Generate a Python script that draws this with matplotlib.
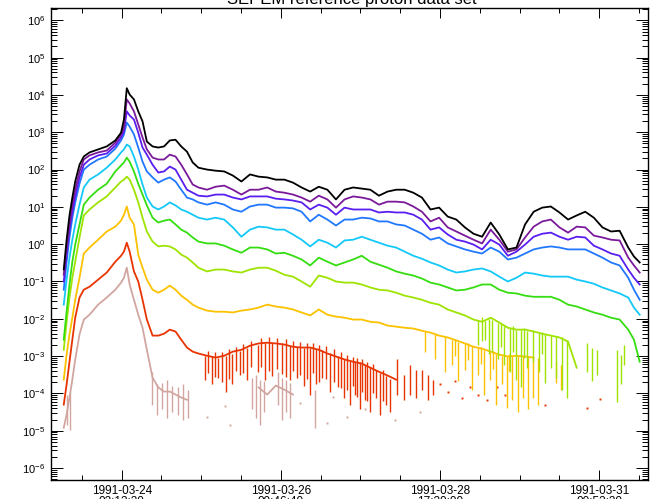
import numpy as np
import matplotlib
matplotlib.use('Agg')
import matplotlib.pyplot as plt
import matplotlib.dates as mdates
import matplotlib.ticker as mticker

plt.rcParams['font.family'] = ['Liberation Sans', 'DejaVu Sans']
plt.rcParams['mathtext.fontset'] = 'custom'
plt.rcParams['mathtext.rm'] = 'Liberation Sans'
plt.rcParams['mathtext.it'] = 'Liberation Sans:italic'
plt.rcParams['mathtext.bf'] = 'Liberation Sans:bold'

nan = np.nan
start = np.datetime64('1991-03-23T00:00:00')


def to_time(h):
    return start + np.round(np.asarray(h, dtype=float) * 3600).astype('timedelta64[s]')


# sample times, hours after 1991-03-23 00:00 UT
hours = np.r_[6, 7, 8, 9, 10, 11.5, 13, 15, 18, 21, 24, 26, 27, 28, 29, 30.5,
              32, 33.5, 35, 37, 39, 41, 43, 45, 47, 49, 51, 53,
              np.arange(56, 204, 3), 205, 207]

# log10 flux, one list per energy channel (lowest energy first)
ch1 = [-0.68, 0.12, 0.77, 1.25, 1.68, 2.13, 2.35, 2.46, 2.54, 2.62,
       2.78, 2.99, 3.34, 4.18, 4.01, 3.88, 3.56, 3.29, 2.75, 2.62,
       2.59, 2.62, 2.78, 2.80, 2.62, 2.48, 2.19, 2.05, 2.00, 1.97,
       1.95, 1.84, 1.68, 1.87, 1.81, 1.79, 1.73, 1.73, 1.65, 1.52,
       1.41, 1.54, 1.46, 1.20, 1.46, 1.52, 1.49, 1.46, 1.30, 1.41,
       1.46, 1.46, 1.38, 1.25, 0.93, 0.98, 0.74, 0.66, 0.45, 0.28,
       0.20, 0.58, 0.26, -0.14, -0.09, 0.53, 0.87, 0.98, 1.01, 0.85,
       0.66, 0.77, 0.87, 0.71, 0.45, 0.34, 0.36, -0.09, -0.33, -0.49]
ch2 = [-0.82, -0.09, 0.55, 1.06, 1.46, 1.95, 2.27, 2.38, 2.46, 2.51,
       2.72, 2.94, 3.13, 3.88, 3.77, 3.56, 3.21, 2.86, 2.54, 2.32,
       2.27, 2.27, 2.40, 2.35, 2.13, 1.87, 1.60, 1.52, 1.46, 1.54,
       1.57, 1.46, 1.33, 1.46, 1.46, 1.52, 1.41, 1.38, 1.33, 1.25,
       1.14, 1.30, 1.20, 0.98, 1.20, 1.28, 1.25, 1.20, 1.06, 1.14,
       1.14, 1.12, 1.01, 0.87, 0.61, 0.71, 0.45, 0.34, 0.23, 0.12,
       0.02, 0.39, 0.12, -0.20, -0.14, 0.18, 0.47, 0.61, 0.66, 0.45,
       0.31, 0.47, 0.45, 0.23, 0.18, 0.12, 0.10, -0.36, -0.57, -0.76]
ch3 = [-1.00, -0.28, 0.39, 0.87, 1.28, 1.79, 2.13, 2.27, 2.38, 2.43,
       2.64, 2.86, 3.02, 3.56, 3.45, 3.34, 2.99, 2.59, 2.40, 2.13,
       1.92, 1.95, 2.08, 2.00, 1.73, 1.46, 1.38, 1.30, 1.28, 1.33,
       1.33, 1.25, 1.20, 1.28, 1.28, 1.28, 1.22, 1.20, 1.17, 1.12,
       0.93, 1.06, 0.98, 0.79, 0.98, 0.93, 0.93, 0.93, 0.85, 0.87,
       0.85, 0.85, 0.79, 0.66, 0.39, 0.45, 0.26, 0.12, 0.07, -0.01,
       -0.14, 0.12, -0.01, -0.31, -0.20, -0.01, 0.20, 0.28, 0.31, 0.20,
       0.12, 0.20, 0.18, -0.04, -0.14, -0.25, -0.31, -0.68, -0.90, -1.08]
ch4 = [-1.22, -0.47, 0.18, 0.71, 1.12, 1.62, 2.00, 2.13, 2.27, 2.35,
       2.56, 2.78, 2.94, 3.26, 3.15, 2.94, 2.59, 2.21, 1.95, 1.79,
       1.65, 1.73, 1.79, 1.68, 1.46, 1.25, 1.20, 1.12, 1.06, 1.12,
       1.06, 0.93, 0.87, 1.01, 1.06, 1.06, 0.98, 0.98, 0.96, 0.87,
       0.61, 0.79, 0.66, 0.50, 0.66, 0.66, 0.71, 0.69, 0.61, 0.61,
       0.53, 0.50, 0.39, 0.28, 0.12, 0.18, 0.02, -0.06, -0.14, -0.20,
       -0.25, -0.09, -0.20, -0.41, -0.36, -0.25, -0.14, -0.09, -0.06, -0.09,
       -0.14, -0.14, -0.14, -0.25, -0.36, -0.49, -0.57, -0.90, -1.22, -1.49]
ch5 = [-1.62, -0.95, -0.36, 0.12, 0.53, 1.06, 1.52, 1.73, 1.87, 2.05,
       2.27, 2.46, 2.54, 2.67, 2.62, 2.35, 2.00, 1.60, 1.25, 1.01,
       0.93, 1.01, 1.12, 1.04, 0.93, 0.87, 0.79, 0.71, 0.66, 0.71,
       0.66, 0.45, 0.20, 0.39, 0.47, 0.45, 0.39, 0.39, 0.26, 0.12,
       -0.06, 0.12, 0.04, -0.09, 0.10, 0.12, 0.20, 0.12, 0.04, -0.04,
       -0.09, -0.20, -0.31, -0.39, -0.49, -0.57, -0.68, -0.76, -0.73, -0.68,
       -0.65, -0.73, -0.87, -1.00, -0.90, -0.76, -0.79, -0.84, -0.87, -0.87,
       -0.87, -0.95, -1.00, -1.06, -1.16, -1.24, -1.32, -1.43, -1.70, -1.89]
ch6 = [-2.56, -1.81, -1.08, -0.47, -0.01, 0.53, 1.06, 1.25, 1.46, 1.62,
       1.95, 2.11, 2.19, 2.32, 2.21, 1.95, 1.62, 1.33, 1.04, 0.71,
       0.58, 0.63, 0.66, 0.53, 0.39, 0.31, 0.18, 0.07, 0.02, 0.02,
       -0.04, -0.14, -0.23, -0.09, -0.09, -0.14, -0.25, -0.23, -0.31, -0.41,
       -0.57, -0.36, -0.47, -0.57, -0.49, -0.41, -0.31, -0.47, -0.55, -0.63,
       -0.73, -0.79, -0.84, -0.92, -1.03, -1.08, -1.16, -1.24, -1.22, -1.16,
       -1.08, -1.08, -1.22, -1.30, -1.32, -1.38, -1.41, -1.41, -1.41, -1.49,
       -1.62, -1.67, -1.75, -1.83, -1.89, -1.97, -2.02, -2.29, -2.56, -3.15]
ch7 = [-2.83, -2.08, -1.43, -0.90, -0.47, 0.18, 0.77, 0.93, 1.12, 1.28,
       1.52, 1.68, 1.73, 1.81, 1.73, 1.46, 1.12, 0.71, 0.34, 0.07,
       -0.06, -0.04, -0.06, -0.14, -0.28, -0.36, -0.49, -0.63, -0.73, -0.68,
       -0.68, -0.73, -0.76, -0.68, -0.63, -0.63, -0.71, -0.82, -0.87, -1.00,
       -1.14, -0.84, -0.90, -1.00, -1.03, -1.03, -1.08, -1.16, -1.22, -1.24,
       -1.30, -1.38, -1.43, -1.49, -1.57, -1.62, -1.75, -1.83, -1.91, -2.02,
       -2.08, -1.97, -2.10, -2.24, -2.29, -2.29, -2.34, -2.40, -2.45, -2.50,
       -2.61, -3.31, nan, nan, nan, nan, nan, nan, nan, nan]
ch8 = [-3.63, -2.96, -2.42, -1.97, -1.49, -0.90, -0.25, -0.09, 0.12, 0.34,
       0.47, 0.63, 0.79, 1.01, 0.71, 0.53, -0.28, -0.63, -0.95, -1.22,
       -1.30, -1.22, -1.11, -1.22, -1.38, -1.49, -1.62, -1.70, -1.78, -1.81,
       -1.81, -1.83, -1.78, -1.75, -1.70, -1.62, -1.67, -1.70, -1.75, -1.83,
       -1.91, -1.75, -1.89, -1.94, -1.97, -2.02, -2.02, -2.08, -2.10, -2.18,
       -2.21, -2.24, -2.26, -2.32, -2.37, -2.45, -2.50, -2.58, -2.66, -2.75,
       -2.80, -2.88, -2.96, -3.01, -2.99, -3.01, -3.04, nan, nan, nan,
       nan, nan, nan, nan, nan, nan, nan, nan, nan, nan]
ch9 = [-4.30, -3.76, -3.15, -2.56, -1.97, -1.43, -1.22, -1.14, -0.95, -0.76,
       -0.47, -0.31, -0.20, 0.04, -0.20, -0.73, -1.00, -1.49, -2.02, -2.45,
       -2.45, -2.40, -2.29, -2.34, -2.56, -2.77, -2.88, -2.93, -2.99, -3.04,
       -2.99, -2.88, -2.83, -2.72, -2.66, -2.64, -2.66, -2.69, -2.75, -2.77,
       -2.77, -2.83, -2.93, -3.01, -3.09, -3.15, -3.20, -3.31, -3.42, -3.52,
       -3.63, nan, nan, nan, nan, nan, nan, nan, nan, nan,
       nan, nan, nan, nan, nan, nan, nan, nan, nan, nan,
       nan, nan, nan, nan, nan, nan, nan, nan, nan, nan]
ch10 = [-4.92, -4.57, -4.11, -3.63, -3.09, -2.42, -2.02, -1.89, -1.62, -1.43,
        -1.22, -1.03, -0.90, -0.63, -1.08, -1.49, -1.89, -2.24, -2.83, -3.58,
        -3.84, -3.95, -3.95, -4.03, -4.11, -4.17, nan, nan, nan, nan,
        nan, nan, nan, nan, -3.84, -4.03, -3.79, -3.90, -4.03, nan,
        nan, nan, nan, nan, nan, nan, nan, nan, nan, nan,
        nan, nan, nan, nan, nan, nan, nan, nan, nan, nan,
        nan, nan, nan, nan, nan, nan, nan, nan, nan, nan,
        nan, nan, nan, nan, nan, nan, nan, nan, nan, nan]

channels = [ch1, ch2, ch3, ch4, ch5, ch6, ch7, ch8, ch9, ch10]
colors = ['#000000', '#7a1a9a', '#5a1ef0', '#2178ff', '#14c8f8',
          '#34de10', '#9ee400', '#fcc200', '#e83400', '#d2a6a0']

# noisy dropouts in the high-energy channels: time, upper and lower log10 flux
ch7_drop_h = [150.6, 152.0, 153.0, 154.3, 155.5, 157.6, 158.7, 159.6, 161.7, 162.8, 163.8,
              165.6, 166.7, 167.7, 169.8, 171.8, 173.0, 174.0, 176.1, 177.8, 179.9, 181.7,
              188.6, 190.4, 192.1, 199.1, 200.5, 201.5]
ch7_drop_hi = [-2.02, -1.95, -2.05, -2.00, -2.02, -2.10, -2.12, -2.18, -2.24, -2.20, -2.29,
               -2.29, -2.25, -2.32, -2.34, -2.37, -2.35, -2.42, -2.45, -2.48, -2.50, -2.58,
               -2.64, -2.77, -2.83, -2.83, -2.96, -2.69]
ch7_drop_lo = [-2.69, -2.60, -2.56, -2.95, -2.88, -3.09, -2.75, -3.23, -3.42, -2.90, -3.63,
               -3.84, -3.05, -3.31, -3.15, -3.42, -2.95, -3.71, -3.31, -3.58, -3.90, -4.11,
               -3.42, -3.68, -3.50, -4.22, -3.76, -3.23]

ch8_drop_h = [132.1, 135.6, 139.0, 141.5, 142.6, 143.6, 146.0, 147.2, 148.5, 150.6, 151.6,
              152.7, 154.8, 155.8, 156.9, 159.0, 160.7, 161.5, 162.4, 164.5, 166.3, 168.0,
              169.8, 171.5, 177.8, 179.5]
ch8_drop_hi = [-2.34, -2.40, -2.50, -2.56, -2.55, -2.61, -2.66, -2.65, -2.72, -2.77, -2.75,
               -2.83, -2.88, -2.85, -2.93, -2.99, -3.01, -2.95, -2.99, -2.99, -3.01, -3.01,
               -3.04, -3.04, -3.17, -3.23]
ch8_drop_lo = [-2.88, -3.09, -3.42, -3.23, -3.00, -3.68, -3.36, -3.10, -3.90, -3.50, -3.20,
               -4.03, -3.63, -3.35, -4.30, -3.76, -4.38, -3.40, -4.17, -4.49, -4.11, -4.43,
               -4.11, -4.30, -3.71, -3.90]

ch9_drop_h = [55.3, 56.5, 57.7, 58.8, 59.8, 61.2, 62.6, 63.6, 64.7, 66.0, 67.5, 68.7,
              69.9, 71.5, 73.8, 75.0, 76.2, 77.5, 78.7, 80.4, 82.2, 83.5, 84.9, 86.1,
              87.4, 88.6, 89.8, 90.8, 91.9, 93.0, 94.0, 95.0, 96.1, 97.5, 98.9, 100.3,
              101.7, 102.7, 103.8, 104.8, 105.9, 106.8, 107.6, 108.5, 109.4, 110.2, 111.1, 112.0,
              112.9, 114.0, 115.0, 116.4, 117.4, 118.5, 119.9,
              122.3, 124.7, 126.8, 129.0, 131.0, 133.1, 134.9]
ch9_drop_hi = [-2.99, -2.85, -3.01, -2.88, -3.04, -2.90, -3.01, -2.82, -2.93, -2.75, -2.85, -2.68,
               -2.77, -2.60, -2.69, -2.52, -2.66, -2.50, -2.64, -2.52, -2.66, -2.55, -2.72, -2.60,
               -2.75, -2.62, -2.77, -2.64, -2.77, -2.66, -2.80, -2.70, -2.83, -2.74, -2.91, -2.82,
               -2.99, -2.90, -3.07, -2.98, -3.12, -3.02, -3.15, -3.05, -3.17, -3.08, -3.23, -3.15,
               -3.28, -3.22, -3.36, -3.44, -3.38, -3.52, -3.60,
               -3.09, -3.50, -3.23, -3.36, -3.36, -3.50, -3.63]
ch9_drop_lo = [-3.63, -3.45, -3.76, -3.55, -3.58, -3.70, -3.95, -3.60, -3.74, -3.40, -3.50, -3.45,
               -3.63, -3.30, -3.42, -3.30, -3.63, -3.40, -3.52, -3.35, -3.47, -3.55, -3.63, -3.40,
               -3.58, -3.50, -3.79, -3.60, -4.03, -3.45, -3.74, -3.70, -3.58, -3.60, -3.95, -3.70,
               -3.84, -3.85, -4.11, -3.90, -4.30, -3.80, -4.03, -4.10, -4.43, -3.95, -4.17, -4.20,
               -4.49, -4.00, -4.11, -4.57, -4.20, -4.30, -4.49,
               -4.03, -4.17, -4.03, -4.11, -3.90, -4.17, -4.03]

ch10_drop_h = [7.1, 8.2, 36.8, 38.5, 40.3, 42.0, 43.8, 45.9, 47.6, 49.4,
               71.7, 73.1, 74.5, 75.9, 80.8, 82.2, 83.6, 85.0, 93.7]
ch10_drop_hi = [-4.03, -3.95, -3.42, -3.76, -3.71, -3.63, -3.79, -3.84, -3.74, -3.90,
                -3.58, -3.50, -3.63, -3.68, -3.42, -3.58, -3.63, -3.71, -3.90]
ch10_drop_lo = [-4.84, -4.97, -4.30, -4.57, -4.43, -4.65, -4.49, -4.57, -4.70, -4.65,
                -4.43, -4.65, -4.84, -4.49, -4.30, -4.70, -4.49, -4.65, -4.92]

# isolated single samples
ch9_pts_h = [137.3, 140.1, 142.5, 145.0, 147.8, 150.6, 153.7, 157.2, 160.0, 174.0, 188.6, 193.2]
ch9_pts = [-3.76, -3.95, -3.68, -4.11, -3.84, -4.03, -4.17, -3.82, -4.03, -4.30, -4.38, -4.14]
ch10_pts_h = [56.0, 62.3, 64.0, 88.4, 97.9, 100.0, 104.9, 111.1, 121.6, 130.3]
ch10_pts = [-4.62, -4.35, -4.84, -4.25, -4.78, -4.09, -4.62, -4.43, -4.70, -4.49]

drops = {6: (ch7_drop_h, ch7_drop_hi, ch7_drop_lo),
         7: (ch8_drop_h, ch8_drop_hi, ch8_drop_lo),
         8: (ch9_drop_h, ch9_drop_hi, ch9_drop_lo),
         9: (ch10_drop_h, ch10_drop_hi, ch10_drop_lo)}
points = {8: (ch9_pts_h, ch9_pts), 9: (ch10_pts_h, ch10_pts)}

fig = plt.figure(figsize=(6.51, 4.99), dpi=100)
ax = fig.add_axes([51 / 651, 1 - 480 / 499, 597 / 651, 472 / 499])

t = to_time(hours)
for i in range(len(channels) - 1, -1, -1):
    col = colors[i]
    z = 2 + (len(channels) - i) * 0.1
    ax.plot(t, 10 ** np.array(channels[i]), color=col, lw=1.3, zorder=z)
    if i in drops:
        h, hi, lo = drops[i]
        ax.vlines(to_time(h), 10 ** np.array(lo), 10 ** np.array(hi),
                  color=col, lw=1.0, zorder=z)
    if i in points:
        h, v = points[i]
        ax.plot(to_time(h), 10 ** np.array(v), ls='none', marker='s', ms=1.4,
                mew=0, color=col, zorder=z)

ax.set_yscale('log')
ax.set_ylim(10 ** -6.32, 10 ** 6.33)

# ticks every 200000 s, minor every 50000 s
first = np.datetime64('1991-03-24T02:13:20')
major = first + np.arange(4) * np.timedelta64(200000, 's')
minor = first + np.arange(-1, 14) * np.timedelta64(50000, 's')
ax.xaxis.set_major_locator(mticker.FixedLocator(mdates.date2num(major)))
ax.xaxis.set_minor_locator(mticker.FixedLocator(mdates.date2num(minor)))
ax.xaxis.set_major_formatter(mdates.DateFormatter('%Y-%m-%d\n%H:%M:%S'))
ax.set_xlim(to_time(1.55), to_time(209.9))

ax.yaxis.set_major_locator(mticker.LogLocator(base=10, numticks=30))
ax.yaxis.set_minor_locator(mticker.LogLocator(base=10, subs=np.arange(2, 10), numticks=30))
ax.yaxis.set_minor_formatter(mticker.NullFormatter())

ax.tick_params(which='both', direction='in', top=True, right=True, width=0.7)
ax.tick_params(axis='y', which='major', length=8.5, pad=4, labelsize=8)
ax.tick_params(axis='y', which='minor', length=4.5)
ax.tick_params(axis='x', which='major', length=7, pad=3.5, labelsize=8.5)
ax.tick_params(axis='x', which='minor', length=3.5)
plt.setp(ax.get_xticklabels(), linespacing=0.85)
for s in ax.spines.values():
    s.set_linewidth(1.0)

fig.text(0.540, 1 - 4 / 499, 'SEPEM reference proton data set',
         ha='center', va='baseline', fontsize=12)

fig.savefig('out.png', dpi=100)
